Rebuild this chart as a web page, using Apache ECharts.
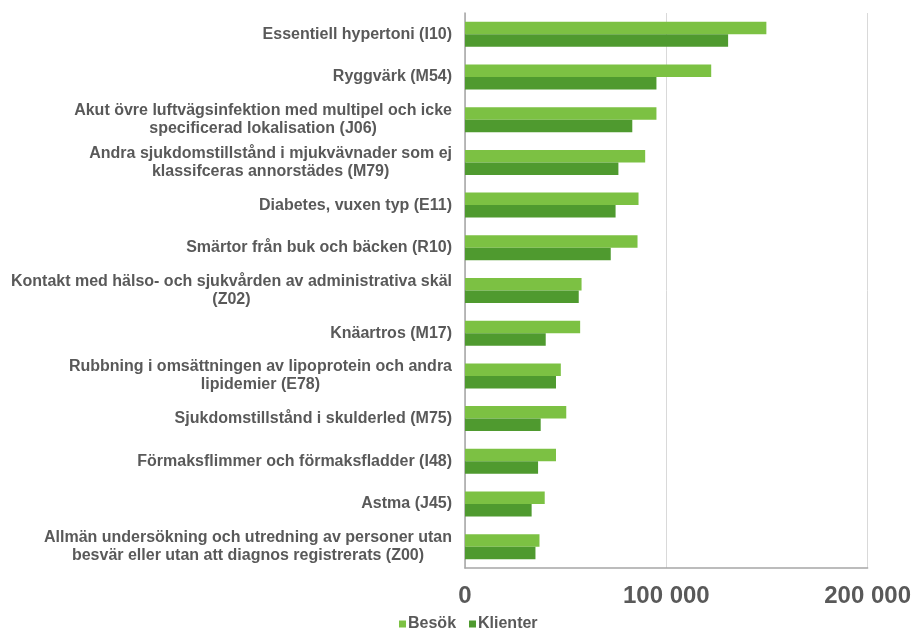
<!DOCTYPE html>
<html>
<head>
<meta charset="utf-8">
<script src="https://cdn.jsdelivr.net/npm/echarts@6/dist/echarts.min.js"></script>
<style>
  html, body { margin: 0; padding: 0; background: #ffffff; }
  #chart { width: 914px; height: 631px; }
</style>
</head>
<body>
<div id="chart"></div>
<script>
const categories = [
  "Essentiell hypertoni (I10)",
  "Ryggvärk (M54)",
  "Akut övre luftvägsinfektion med multipel och icke\nspecificerad lokalisation (J06)",
  "Andra sjukdomstillstånd i mjukvävnader som ej\nklassifceras annorstädes (M79)",
  "Diabetes, vuxen typ (E11)",
  "Smärtor från buk och bäcken (R10)",
  "Kontakt med hälso- och sjukvården av administrativa skäl\n(Z02)",
  "Knäartros (M17)",
  "Rubbning i omsättningen av lipoprotein och andra\nlipidemier (E78)",
  "Sjukdomstillstånd i skulderled (M75)",
  "Förmaksflimmer och förmaksfladder (I48)",
  "Astma (J45)",
  "Allmän undersökning och utredning av personer utan\nbesvär eller utan att diagnos registrerats (Z00)"
];
const besok = [149700, 122300, 95100, 89500, 86200, 85700, 57900, 57200, 47600, 50300, 45200, 39600, 37000];
const klienter = [130700, 95100, 83100, 76200, 74800, 72400, 56500, 40100, 45200, 37600, 36300, 33100, 35000];
const seriesNames = ["Besök", "Klienter"];
const xMin = 0, xMax = 200000, xStep = 100000;

const FONT = "'Liberation Sans', Arial, sans-serif";
const TEXT = "#595959";

function fmt(v) {
  return String(v).replace(/\B(?=(\d{3})+(?!\d))/g, " ");
}

const chart = echarts.init(document.getElementById('chart'), null, { renderer: 'canvas' });
chart.setOption({
  backgroundColor: '#ffffff',
  animation: false,
  grid: { left: 465, right: 45, top: 13, bottom: 63, containLabel: false },
  legend: {
    data: seriesNames,
    left: 394,
    top: 611,
    padding: 5,
    icon: 'rect',
    itemWidth: 7,
    itemHeight: 7,
    itemGap: 13,
    textStyle: { color: TEXT, fontSize: 16, fontWeight: 'bold', fontFamily: FONT, padding: [0, 0, 0, -3] }
  },
  xAxis: {
    type: 'value',
    min: xMin, max: xMax, interval: xStep,
    axisLine: { show: true, lineStyle: { color: '#a6a6a6', width: 1.5 } },
    axisTick: { show: false },
    splitLine: { show: true, lineStyle: { color: '#d9d9d9', width: 1 } },
    axisLabel: {
      formatter: fmt,
      color: TEXT, fontSize: 24, fontWeight: 'bold', fontFamily: FONT, margin: 16
    }
  },
  yAxis: {
    type: 'category',
    data: categories,
    inverse: true,
    axisLine: { show: true, lineStyle: { color: '#a6a6a6', width: 1.5 } },
    axisTick: { show: false },
    splitLine: { show: false },
    axisLabel: {
      margin: 13,
      align: 'right',
      formatter: v => '{c|' + v + '}',
      rich: {
        c: { align: 'center', color: TEXT, fontSize: 16, fontWeight: 'bold', fontFamily: FONT, lineHeight: 18 }
      }
    }
  },
  series: [
    {
      name: seriesNames[0], type: 'bar', data: besok,
      barWidth: 12.5, barGap: '0%',
      itemStyle: { color: '#7cc143' }
    },
    {
      name: seriesNames[1], type: 'bar', data: klienter,
      barWidth: 12.5, barGap: '0%',
      itemStyle: { color: '#4f9a2f' }
    }
  ]
});
</script>
</body>
</html>
